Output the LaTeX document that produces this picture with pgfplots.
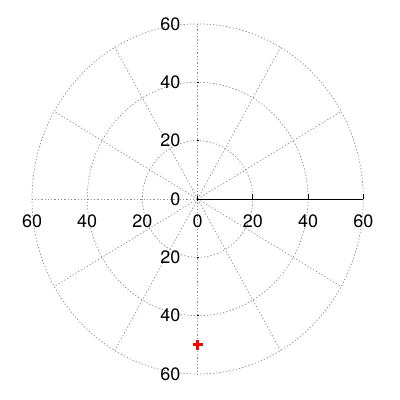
\documentclass[border=0pt]{standalone}
\usepackage{pgfplots}
\pgfplotsset{compat=1.18}
\usepackage{fontspec}
\setmainfont{TeX Gyre Heros}
\begin{document}
\begin{tikzpicture}[x=1pt,y=1pt]
\begin{axis}[
  scale only axis, width=400pt, height=400pt,
  xmin=-71.6, xmax=73.3, ymin=-68.9, ymax=68.2,
  hide axis, clip=false,
  font=\fontsize{18}{20}\selectfont,
]
\tikzset{gridl/.style={draw=black!45, line width=0.7pt, dash pattern=on 1.3pt off 2pt}}
% circles
\draw[gridl] (axis cs:0,0) circle [radius=20];
\draw[gridl] (axis cs:0,0) circle [radius=40];
\draw[gridl] (axis cs:0,0) circle [radius=60];
% spokes
\pgfplotsinvokeforeach{30,60,90,120,150,180,210,240,270,300,330}{
  \draw[gridl] (axis cs:0,0) -- (axis cs:{60*cos(#1)},{60*sin(#1)});
}
% radial axis
\draw[black, line width=0.9pt] (axis cs:0,0) -- (axis cs:60,0);
\pgfplotsinvokeforeach{20,40,60}{
  \draw[black, line width=0.9pt] (axis cs:#1,0) -- ++(0pt,5pt);
}
\draw[black, line width=0.9pt] (axis cs:0,0) ++(0pt,-2.5pt) -- ++(0pt,5pt);
% small ticks on vertical spoke
\pgfplotsinvokeforeach{20,40,-20,-40}{
  \draw[black, line width=0.6pt] (axis cs:0,#1) ++(-1pt,0pt) -- ++(2pt,0pt);
}
% labels
\pgfplotsinvokeforeach{0,20,40,60}{
  \node[anchor=east, inner sep=0pt] at (axis cs:-6.2,#1) {#1};
}
\pgfplotsinvokeforeach{20,40,60}{
  \node[anchor=east, inner sep=0pt] at (axis cs:-6.2,-#1) {#1};
  \node[inner sep=0pt] at (axis cs:#1,-7.8) {#1};
  \node[inner sep=0pt] at (axis cs:-#1,-7.8) {#1};
}
\node[inner sep=0pt] at (axis cs:0,-7.8) {0};
% data
\addplot[only marks, mark=+, mark size=5pt, draw=red, data cs=polar,
  mark options={draw=red, line width=3pt}]
  coordinates {(270,50)};
\end{axis}
\pgfresetboundingbox
\path (current axis.south west) rectangle (current axis.north east);
\end{tikzpicture}
\end{document}
